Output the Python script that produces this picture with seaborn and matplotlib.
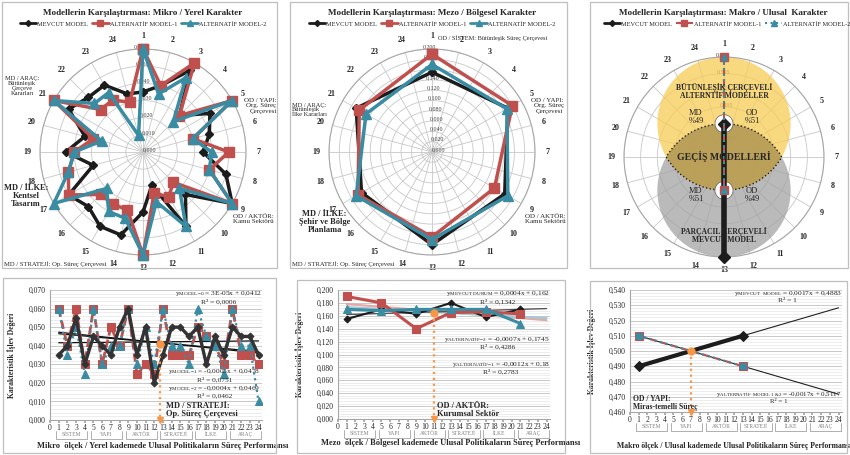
import numpy as np
import pandas as pd
import matplotlib
matplotlib.use('Agg')
import matplotlib.pyplot as plt
from matplotlib.patches import Rectangle, Circle, Arc
from matplotlib.lines import Line2D
from matplotlib.ticker import FuncFormatter, MultipleLocator
from matplotlib.transforms import blended_transform_factory
import seaborn as sns

sns.set_theme(style='white')
plt.rcParams['font.family'] = ['Liberation Serif', 'DejaVu Serif']
plt.rcParams['mathtext.fontset'] = 'custom'
plt.rcParams['mathtext.rm'] = 'Liberation Serif'
plt.rcParams['mathtext.it'] = 'Liberation Serif:italic'
plt.rcParams['mathtext.bf'] = 'Liberation Serif:bold'

# ---- data ----
axis_no = list(range(1, 25))
# mikro / yerel (24 criteria)
mikro_mevcut = [0.035, 0.040, 0.055, 0.030, 0.045, 0.040, 0.035, 0.050, 0.060, 0.035, 0.050, 0.020,
                0.035, 0.050, 0.050, 0.045, 0.050, 0.030, 0.045, 0.035, 0.050, 0.045, 0.045, 0.035]
mikro_alt1 = [0.060, 0.040, 0.060, 0.030, 0.060, 0.030, 0.050, 0.040, 0.060, 0.025, 0.030, 0.025,
              0.060, 0.035, 0.035, 0.035, 0.050, 0.045, 0.040, 0.030, 0.060, 0.035, 0.035, 0.030]
mikro_alt2 = [0.060, 0.035, 0.050, 0.025, 0.060, 0.030, 0.040, 0.040, 0.060, 0.030, 0.050, 0.030,
              0.060, 0.040, 0.040, 0.030, 0.060, 0.045, 0.040, 0.025, 0.060, 0.040, 0.040, 0.010]
# mezo / bolgesel (6 criteria)
mezo_x = [1, 5, 9, 13, 17, 21]
mezo_mevcut = [0.155, 0.170, 0.163, 0.180, 0.158, 0.170]
mezo_alt1 = [0.190, 0.180, 0.140, 0.165, 0.166, 0.163]
mezo_alt2 = [0.170, 0.168, 0.170, 0.170, 0.170, 0.148]
# makro / ulusal (2 criteria)
makro_x = [1, 13]
makro_mevcut = [0.490, 0.510]
makro_alt1 = [0.510, 0.490]
makro_alt2 = [0.510, 0.490]
# orange crossing markers (mikro, mezo, makro)
cross_x = [12.7, 11, 7]
cross_y = [0.041, 0.165, 0.500]

series_names = ['MEVCUT MODEL', 'ALTERNATİF MODEL-1', 'ALTERNATİF MODEL-2']
groups = ['SİSTEM', 'YAPI', 'AKTÖR', 'STRATEJİ', 'İLKE', 'ARAÇ']
group_start = [1, 5, 9, 13, 17, 21]

BLACK = '#1c1c1c'
RED = '#C0504D'
TEAL = '#3A8CA3'
ORANGE = '#F79646'

W, H = 850, 455
fig = plt.figure(figsize=(8.5, 4.55), dpi=100)


def fpos(x, y):
    return x / W, 1 - y / H


def ftext(x, y, s, **kw):
    fig.text(*fpos(x, y), s, **kw)


def fmt(v, _=None):
    return f'{v:.3f}'.replace('.', ',')


def frame(x0, y0, x1, y1):
    fig.add_artist(Rectangle(fpos(x0, y1), (x1 - x0) / W, (y1 - y0) / H,
                             transform=fig.transFigure, fill=False, ec='#BFBFBF', lw=0.9))


for fr in [(2, 2, 277, 268), (290, 2, 567, 268), (590, 2, 848, 268),
           (3, 278, 276, 453), (297, 280, 565, 453), (590, 281, 847, 453)]:
    frame(*fr)


def radar_axes(cx, cy, r, ticks, hide_center=False):
    ax = fig.add_axes([(cx - r) / W, 1 - (cy + r) / H, 2 * r / W, 2 * r / H], projection='polar')
    ax.set_theta_zero_location('N')
    ax.set_theta_direction(-1)
    ax.set_xticks(np.deg2rad((np.array(axis_no) - 1) * 15))
    ax.set_xticklabels(axis_no, fontsize=5.8, fontweight='bold')
    ax.tick_params(axis='x', pad=-4)
    ax.set_ylim(ticks[0], ticks[-1])
    ax.set_yticks(ticks)
    labels = [fmt(t) for t in ticks]
    if hide_center:
        labels[0] = ''
    ax.set_yticklabels(labels, fontsize=4.3, color='#404040')
    ax.set_rlabel_position(-5)
    ax.grid(True, color='#C8C8C8', lw=0.6)
    ax.spines['polar'].set_color('#A6A6A6')
    ax.spines['polar'].set_linewidth(0.8)
    return ax


def radar_line(ax, x, vals, color, marker, ms, lw=2.5, ls='-', close=True, z=3):
    th = list(np.deg2rad((np.array(x) - 1) * 15))
    v = list(vals)
    if close:
        th.append(th[0])
        v.append(v[0])
    ax.plot(th, v, color=color, marker=marker, ms=ms, lw=lw, ls=ls,
            mec=color, zorder=z, clip_on=False)


def radar_legend(cx, styles):
    handles = [Line2D([], [], color=c, marker=m, ms=s, lw=lw, ls=ls) for c, m, s, lw, ls in styles]
    fig.legend(handles, series_names, loc='center', bbox_to_anchor=fpos(cx, 24), ncol=3,
               fontsize=4.6, frameon=False, handlelength=2.6, columnspacing=0.6,
               handletextpad=0.2, borderaxespad=0, borderpad=0)


# ---------------- Mikro radar ----------------
ax1 = radar_axes(143, 152, 103, np.round(np.arange(0, 0.0601, 0.01), 3))
radar_line(ax1, axis_no, mikro_mevcut, BLACK, 'D', 4, z=3)
radar_line(ax1, axis_no, mikro_alt1, RED, 's', 7, z=4)
radar_line(ax1, axis_no, mikro_alt2, TEAL, '^', 7, z=5)
ftext(143, 13, 'Modellerin Karşılaştırması: Mikro / Yerel Karakter', ha='center', va='center',
      fontsize=6.6, fontweight='bold')
radar_legend(143, [(BLACK, 'D', 3, 2, '-'), (RED, 's', 4, 2, '-'), (TEAL, '^', 4, 2, '-')])
ftext(244, 106, 'OD / YAPI:\nOrg. Süreç\nÇerçevesi', ha='left', va='center', fontsize=5,
      multialignment='right', linespacing=1.0)
ftext(233, 219, 'OD / AKTÖR:\nKamu Sektörü', ha='left', va='center', fontsize=5,
      multialignment='right', linespacing=1.0)
ftext(106, 264, 'MD / STRATEJİ: Op. Süreç Çerçevesi', ha='right', va='center', fontsize=4.8)
ftext(4, 196, 'MD / İLKE:\nKentsel\nTasarım', ha='left', va='center', fontsize=6,
      fontweight='bold', multialignment='center', linespacing=1.0)
ftext(5, 86, 'MD / ARAÇ:\nBütünleşik\nÇerçeve\nKararları', ha='left', va='center', fontsize=4.6,
      multialignment='center', linespacing=1.0)

# ---------------- Mezo radar ----------------
ax2 = radar_axes(432, 152, 103, np.round(np.arange(0, 0.2001, 0.02), 3))
radar_line(ax2, mezo_x, mezo_mevcut, BLACK, 'D', 4, z=3)
radar_line(ax2, mezo_x, mezo_alt1, RED, 's', 7, z=4)
radar_line(ax2, mezo_x, mezo_alt2, TEAL, '^', 7, z=5)
ftext(432, 13, 'Modellerin Karşılaştırması: Mezo / Bölgesel Karakter', ha='center', va='center',
      fontsize=6.6, fontweight='bold')
radar_legend(432, [(BLACK, 'D', 3, 2, '-'), (RED, 's', 4, 2, '-'), (TEAL, '^', 4, 2, '-')])
ftext(438, 38, 'OD / SİSTEM: Bütünleşik Süreç Çerçevesi', ha='left', va='center', fontsize=4.5)
ftext(531, 106, 'OD / YAPI:\nOrg. Süreç\nÇerçevesi', ha='left', va='center', fontsize=5,
      multialignment='right', linespacing=1.0)
ftext(525, 219, 'OD / AKTÖR:\nKamu Sektörü', ha='left', va='center', fontsize=5,
      multialignment='right', linespacing=1.0)
ftext(395, 264, 'MD / STRATEJİ: Op. Süreç Çerçevesi', ha='right', va='center', fontsize=4.8)
ftext(299, 222, 'MD / İLKE:\nŞehir ve Bölge\nPlanlama', ha='left', va='center', fontsize=6,
      fontweight='bold', multialignment='center', linespacing=1.0)
ftext(292, 110, 'MD / ARAÇ:\nBütünleşik\nİlke Kararları', ha='left', va='center', fontsize=4.6,
      multialignment='left', linespacing=1.0)

# ---------------- Makro radar ----------------
ax3 = radar_axes(724, 157, 100, np.round(np.arange(0.48, 0.5101, 0.005), 3), hide_center=True)
T = ax3.transAxes
ax3.add_patch(Circle((0.5, 0.5 - 1 / 6), 1 / 3, transform=T, color='#A3A3A3', alpha=0.75, lw=0, zorder=1))
ax3.add_patch(Circle((0.5, 0.5 + 1 / 6), 1 / 3, transform=T, color='#F7CD55', alpha=0.75, lw=0, zorder=1))
clip_c = Circle((0.5, 0.5 + 1 / 6), 1 / 3, transform=T, fill=False, lw=0)
ax3.add_patch(clip_c)
lens = Circle((0.5, 0.5 - 1 / 6), 1 / 3, transform=T, color='#8F7A45', alpha=0.5, lw=0, zorder=1.5)
ax3.add_patch(lens)
lens.set_clip_path(clip_c)
ax3.add_patch(Arc((0.5, 0.5 + 1 / 6), 2 / 3, 2 / 3, theta1=210, theta2=330, transform=T,
                  color='#222222', ls=':', lw=1.0, zorder=2))
ax3.add_patch(Arc((0.5, 0.5 - 1 / 6), 2 / 3, 2 / 3, theta1=30, theta2=150, transform=T,
                  color='#222222', ls=':', lw=1.0, zorder=2))
for yc in (0.5 + 1 / 6, 0.5 - 1 / 6):
    ax3.add_patch(Circle((0.5, yc), 0.045, transform=T, fc='white', ec='#606060', lw=0.5, zorder=2))
radar_line(ax3, makro_x, makro_mevcut, BLACK, 'D', 6, lw=4, close=False, z=3)
radar_line(ax3, makro_x, makro_alt1, RED, 's', 6, lw=1.5, ls='--', close=False, z=4)
radar_line(ax3, makro_x, makro_alt2, TEAL, '^', 5, lw=1.5, ls=':', close=False, z=5)
ax3.text(0.5, 0.83, 'BÜTÜNLEŞİK ÇERÇEVELİ\nALTERNTİF MODELLER', transform=T, ha='center', va='center',
         fontsize=5.5, fontweight='bold', linespacing=1.0, zorder=6)
ax3.text(0.36, 0.70, 'MD\n%49', transform=T, ha='center', va='center', fontsize=6, linespacing=0.9, zorder=6)
ax3.text(0.64, 0.70, 'OD\n%51', transform=T, ha='center', va='center', fontsize=6, linespacing=0.9, zorder=6)
ax3.text(0.5, 0.505, 'GEÇİŞ MODELLERİ', transform=T, ha='center', va='center',
         fontsize=7, fontweight='bold', zorder=6)
ax3.text(0.36, 0.31, 'MD\n%51', transform=T, ha='center', va='center', fontsize=6, linespacing=0.9, zorder=6)
ax3.text(0.64, 0.31, 'OD\n%49', transform=T, ha='center', va='center', fontsize=6, linespacing=0.9, zorder=6)
ax3.text(0.5, 0.11, 'PARÇACIL ÇERÇEVELİ\nMEVCUT MODEL', transform=T, ha='center', va='center',
         fontsize=5.5, fontweight='bold', linespacing=1.0, zorder=6)
ftext(723, 13, 'Modellerin Karşılaştırması: Makro / Ulusal  Karakter', ha='center', va='center',
      fontsize=6.6, fontweight='bold')
radar_legend(727, [(BLACK, 'D', 3, 2, '-'), (RED, 's', 4, 1.5, '--'), (TEAL, '^', 4, 1.5, ':')])


# ---------------- bottom line charts ----------------
def line_axes(x0, y0, x1, y1, ylim, major, minor, xlabel, xlabel_y, xlabel_x=0.53, xlabel_size=6):
    ax = fig.add_axes([x0 / W, 1 - y1 / H, (x1 - x0) / W, (y1 - y0) / H])
    h = y1 - y0
    ax.set_xlim(0, 24.4)
    ax.set_ylim(*ylim)
    ax.set_xticks(range(25))
    ax.yaxis.set_major_locator(MultipleLocator(major))
    ax.yaxis.set_minor_locator(MultipleLocator(minor))
    ax.yaxis.set_major_formatter(FuncFormatter(fmt))
    ax.grid(False)
    ax.grid(axis='y', which='major', color='#BFBFBF', lw=0.6)
    ax.grid(axis='y', which='minor', color='#E6E6E6', lw=0.5)
    ax.set_axisbelow(True)
    sns.despine(ax=ax)
    for s in ('left', 'bottom'):
        ax.spines[s].set_color('#A6A6A6')
        ax.spines[s].set_linewidth(0.8)
    ax.tick_params(axis='both', which='major', labelsize=5.5, pad=1, length=2,
                   color='#A6A6A6', bottom=True, left=False)
    ax.tick_params(axis='y', which='minor', left=False)
    ax.set_ylabel('Karakteristik İşlev Değeri', fontsize=5.5, fontweight='bold')
    ax.yaxis.set_label_coords(-0.16, 0.5)
    ax.set_xlabel(xlabel, fontsize=xlabel_size, fontweight='bold')
    ax.xaxis.set_label_coords(xlabel_x, -(xlabel_y - 5 - y1) / h)
    tr = blended_transform_factory(ax.transData, ax.transAxes)
    top, bot, mid = -11 / h, -19 / h, -14.5 / h
    for g, s in zip(groups, group_start):
        ax.plot([s - 0.3, s - 0.3, s + 3.3, s + 3.3], [top, bot, bot, top], transform=tr,
                clip_on=False, color='#909090', lw=0.5)
        ax.text(s + 1.5, mid, g, transform=tr, ha='center', va='center', fontsize=4, color='#808080')
    return ax


def trend(ax, x, y, color, lw):
    k, b = np.polyfit(x, y, 1)
    xs = np.array([1, 24])
    ax.plot(xs, k * xs + b, color=color, lw=lw, zorder=2)


def crossing(ax, i, ybottom):
    ax.plot([cross_x[i], cross_x[i]], [cross_y[i], ybottom], ls=':', color=ORANGE, lw=1.6, zorder=6)
    ax.plot(cross_x[i], cross_y[i], 'o', color=ORANGE, ms=5, zorder=7)
    ax.plot(cross_x[i], ybottom, 'v', color=ORANGE, ms=5, zorder=7, clip_on=False)


def eq(sub, rest):
    # sub is mathtext that goes in the subscript of y
    return r'$\mathrm{y}_{' + sub + r'}$' + rest


# Mikro
b1 = line_axes(50, 290, 262, 420, (0, 0.07), 0.01, 0.002,
               'Mikro  ölçek / Yerel kademede Ulusal Politikaların Süreç Performansı', 447)
sns.lineplot(x=axis_no, y=mikro_alt1, ax=b1, color=RED, lw=2, linestyle=(0, (3, 1.5)),
             marker='s', markersize=6, markeredgecolor=RED, zorder=3)
sns.lineplot(x=axis_no, y=mikro_alt2, ax=b1, color=TEAL, lw=1.6, linestyle=':',
             marker='^', markersize=6, markeredgecolor=TEAL, zorder=4)
sns.lineplot(x=axis_no, y=mikro_mevcut, ax=b1, color='#333333', lw=2.4,
             marker='D', markersize=3.5, markeredgecolor='#333333', zorder=5)
for ser in (mikro_mevcut, mikro_alt1, mikro_alt2):
    trend(b1, axis_no, ser, '#111111', 0.9)
crossing(b1, 0, 0)
b1.text(24.4, 0.0705, eq(r'\mathrm{MODEL}\!-\!0', ' = 3E-05x + 0,0412') + '\nR² = 0,0006', ha='right',
        va='top', fontsize=5.3, multialignment='center', linespacing=1.05, zorder=8)
b1.text(13.6, 0.0285, eq(r'\mathrm{MODEL}\!-\!1', ' = -0,0005x + 0,0478') + '\nR² = 0,0751', ha='left',
        va='top', fontsize=5.3, multialignment='center', linespacing=1.05, zorder=8)
b1.text(13.6, 0.0195, eq(r'\mathrm{MODEL}\!-\!2', ' = -0,0004x + 0,0469') + '\nR² = 0,0462', ha='left',
        va='top', fontsize=5.3, multialignment='center', linespacing=1.05, zorder=8)
b1.text(13.4, 0.0012, 'MD / STRATEJİ:\nOp. Süreç Çerçevesi', ha='left', va='bottom', fontsize=6,
        fontweight='bold', linespacing=1.0, zorder=8)

# Mezo
b2 = line_axes(338, 290, 550, 419, (0, 0.2), 0.02, 0.004,
               'Mezo  ölçek / Bölgesel kademede Ulusal Politikaların Süreç Performansı', 444)
trend(b2, mezo_x, mezo_alt1, '#E9A7A5', 1.6)
trend(b2, mezo_x, mezo_alt2, '#A3C8D6', 1.6)
trend(b2, mezo_x, mezo_mevcut, '#555555', 1.0)
sns.lineplot(x=mezo_x, y=mezo_mevcut, ax=b2, color=BLACK, lw=1.5,
             marker='D', markersize=3.5, markeredgecolor=BLACK, zorder=3)
sns.lineplot(x=mezo_x, y=mezo_alt1, ax=b2, color=RED, lw=2.2,
             marker='s', markersize=6, markeredgecolor=RED, zorder=4)
sns.lineplot(x=mezo_x, y=mezo_alt2, ax=b2, color=TEAL, lw=2.2,
             marker='^', markersize=6, markeredgecolor=TEAL, zorder=5)
crossing(b2, 1, 0)
b2.text(24.4, 0.201, eq(r'\mathrm{MEVCUT\ DURUM}', ' = 0,0004x + 0,162') + '\nR² = 0,1342', ha='right',
        va='top', fontsize=5.3, multialignment='center', linespacing=1.05, zorder=8)
b2.text(24.4, 0.131, eq(r'\mathrm{ALTERNATİF}\!-\!2', ' = -0,0007x + 0,1745') + '\nR² = 0,4286',
        ha='right', va='top', fontsize=5.3, multialignment='center', linespacing=1.05, zorder=8)
b2.text(24.4, 0.092, eq(r'\mathrm{ALTERNATİF}\!-\!1', ' = -0,0012x + 0,18') + '\nR² = 0,2783',
        ha='right', va='top', fontsize=5.3, multialignment='center', linespacing=1.05, zorder=8)
b2.text(11.4, 0.001, 'OD / AKTÖR:\nKurumsal Sektör', ha='left', va='bottom', fontsize=6,
        fontweight='bold', linespacing=1.0, zorder=8)

# Makro
b3 = line_axes(630, 290, 842, 412, (0.46, 0.54), 0.01, 0.002,
               'Makro ölçek / Ulusal kademede Ulusal Politikaların Süreç Performansı', 447,
               xlabel_x=0.49, xlabel_size=5.6)
trend(b3, makro_x, makro_mevcut, '#222222', 0.8)
trend(b3, makro_x, makro_alt1, '#222222', 0.8)
sns.lineplot(x=makro_x, y=makro_mevcut, ax=b3, color=BLACK, lw=3,
             marker='D', markersize=5, markeredgecolor=BLACK, zorder=3)
sns.lineplot(x=makro_x, y=makro_alt1, ax=b3, color=RED, lw=1.5, linestyle='--',
             marker='s', markersize=6, markeredgecolor=RED, zorder=4)
sns.lineplot(x=makro_x, y=makro_alt2, ax=b3, color=TEAL, lw=1.5, linestyle=':',
             marker='s', markersize=5, markeredgecolor=TEAL, zorder=5)
crossing(b3, 2, 0.46)
b3.text(24.4, 0.5405, eq(r'\mathrm{MEVCUT\ \ MODEL}', ' = 0,0017x + 0,4883') + '\nR² = 1', ha='right',
        va='top', fontsize=5.3, multialignment='center', linespacing=1.05, zorder=8)
b3.text(24.4, 0.4745, eq(r'\mathrm{ALTERNATİF\ \ MODEL\ 1\ &2}', ' = -0,0017x + 0,5117')
        + '\nR² = 1', ha='right', va='top', fontsize=5.0, multialignment='center', linespacing=1.05,
        zorder=8)
b3.text(0.4, 0.4605, 'OD / YAPI:\nMiras-temelli Süreç', ha='left', va='bottom', fontsize=5.5,
        fontweight='bold', linespacing=1.0, zorder=8)

fig.savefig('out.png', dpi=100)
